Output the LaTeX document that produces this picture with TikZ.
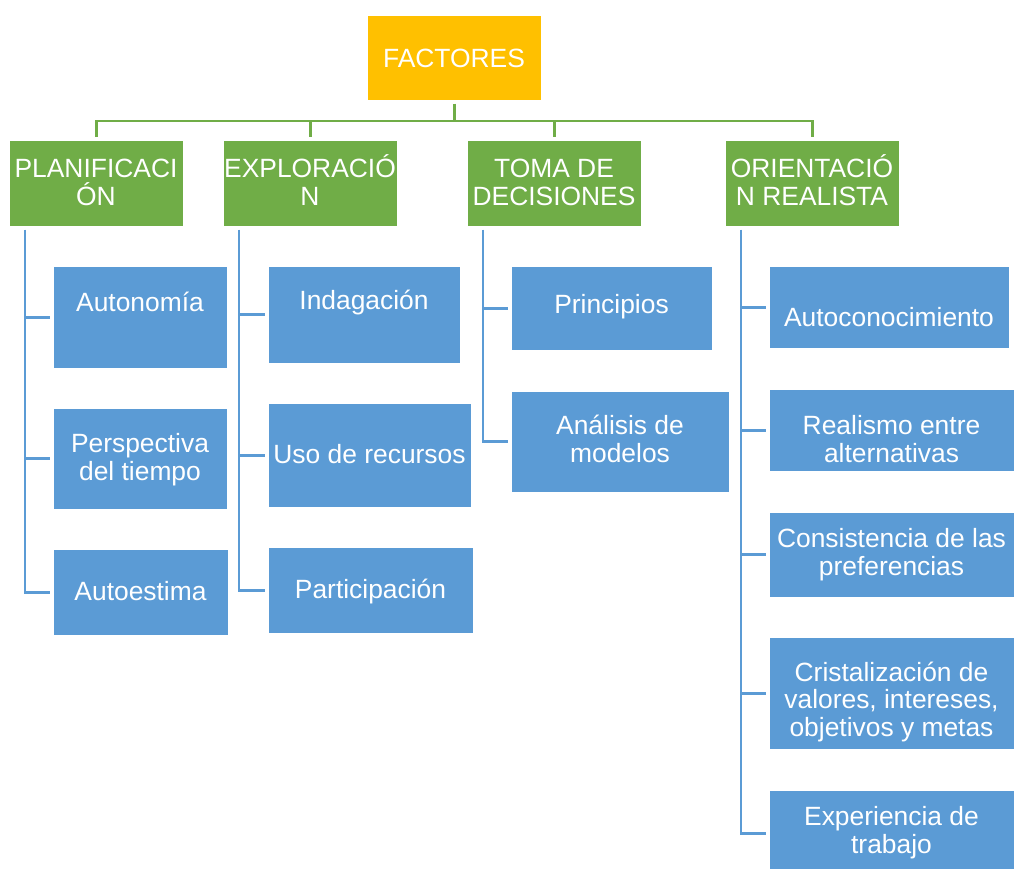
\documentclass[tikz,border=0pt]{standalone}
\usepackage{fontspec}
\setmainfont{Liberation Sans}
\usepackage{xcolor}
\usepackage{tikz}

\definecolor{facgold}{HTML}{FFC000}
\definecolor{maingreen}{HTML}{70AD47}
\definecolor{subblue}{HTML}{5B9BD5}

\begin{document}
\begin{tikzpicture}[x=1pt, y=-1pt,
    facbox/.style={fill=facgold, draw=white, line width=0.5pt, anchor=north west, inner sep=0pt},
    mainbox/.style={fill=maingreen, draw=white, line width=0.5pt, anchor=north west, inner sep=0pt,
      minimum width=174pt, minimum height=86pt},
    subbox/.style={fill=subblue, draw=white, line width=0.5pt, anchor=north west, inner sep=0pt},
    boxtext/.style={text=white, font=\fontsize{26.4}{27.3}\selectfont, align=center, anchor=base, inner sep=0pt},
    topline/.style={draw=maingreen, line width=2.6pt},
    subline/.style={draw=subblue, line width=2.6pt}]
    \useasboundingbox (0,0) rectangle (1014,868);

    % Draw top box
    \node[facbox, minimum width=174pt, minimum height=85pt] (fac) at (367,15) {};
    \node[boxtext] (fac-t) at (454,67) {FACTORES};

    % Draw main boxes (text placed by its last baseline)
    \foreach \nm/\lx/\txt in {plan/9/{PLANIFICACI\\ÓN}, expl/223/{EXPLORACIÓ\\N},
        toma/467/{TOMA DE\\DECISIONES}, orie/725/{ORIENTACIÓ\\N REALISTA}} {
      \node[mainbox] (\nm) at (\lx,140) {};
      \node[boxtext] (\nm-t) at (\lx+87,205) {\txt};
    }

    % Draw sub boxes
    \foreach \nm/\lx/\ty/\bw/\bh/\bl/\txt in {
        auton/53/266/174/102/311/{Autonomía},
        persp/53/408/174/101/480/{Perspectiva\\del tiempo},
        autoe/53/549/175/86/600/{Autoestima},
        indag/268/266/192/97/309/{Indagación},
        usore/268/403/203/104/463/{Uso de recursos},
        parti/268/547/205/86/598/{Participación},
        princ/511/266/201/84/313/{Principios},
        anali/511/391/218/101/462/{Análisis de\\modelos},
        autoc/769/266/240/82/326/{Autoconocimiento},
        reali/769/389/245/82/462/{Realismo entre\\alternativas},
        consi/769/512/245/85/575/{Consistencia de las\\preferencias},
        crist/769/637/245/112/736/{Cristalización de\\valores, intereses,\\objetivos y metas},
        exper/769/790/245/86/853/{Experiencia de\\trabajo}} {
      \node[subbox, minimum width=\bw pt, minimum height=\bh pt] (\nm) at (\lx,\ty) {};
      \node[boxtext] (\nm-t) at (\lx+\bw/2,\bl) {\txt};
    }

    % Connect top box with main boxes
    \coordinate (bus) at (454,121);
    \draw[topline] ([yshift=3pt]plan.north) |- (bus -| orie.north) -- ([yshift=3pt]orie.north);
    \draw[topline] ([yshift=-3pt]fac.south) -- (fac.south |- bus);
    \foreach \mb in {expl,toma}
      \draw[topline] (\mb.north |- bus) -- ([yshift=3pt]\mb.north);

    % Connect main boxes with sub boxes
    \foreach \mb/\sb in {plan/autoe, expl/parti, toma/anali, orie/exper}
      \draw[subline] ([xshift=16pt,yshift=-3pt]\mb.south west) |- ([xshift=-3pt]\sb.west);
    \foreach \mb/\sb in {plan/auton, plan/persp, expl/indag, expl/usore, toma/princ,
        orie/autoc, orie/reali, orie/consi, orie/crist}
      \draw[subline] ([xshift=16pt]\mb.south west |- \sb.west) -- ([xshift=-3pt]\sb.west);
\end{tikzpicture}
\end{document}
